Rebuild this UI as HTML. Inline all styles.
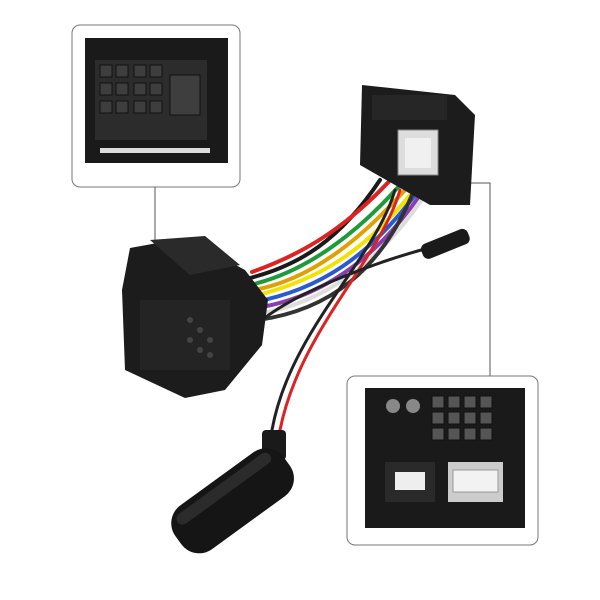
<!DOCTYPE html>
<html><head><meta charset="utf-8"><style>
html,body{margin:0;padding:0;background:#fff;}
svg{display:block;}
</style></head><body>
<svg width="600" height="600" viewBox="0 0 600 600" xmlns="http://www.w3.org/2000/svg">
<rect width="600" height="600" fill="#fff"/>
<polyline points="155,187 155,248" fill="none" stroke="#555" stroke-width="1"/>
<polyline points="462,183 490,183 490,376" fill="none" stroke="#555" stroke-width="1"/>
<rect x="72" y="25" width="168" height="162" rx="8" fill="#fff" stroke="#777" stroke-width="1"/>
<g>
<rect x="85" y="38" width="143" height="125" fill="#1a1a1a"/>
<rect x="95" y="60" width="112" height="80" fill="#2c2c2c"/>
<g fill="#3e3e3e" stroke="#111">
<rect x="100" y="65" width="12" height="12"/><rect x="116" y="65" width="12" height="12"/><rect x="134" y="65" width="12" height="12"/><rect x="150" y="65" width="12" height="12"/>
<rect x="100" y="83" width="12" height="12"/><rect x="116" y="83" width="12" height="12"/><rect x="134" y="83" width="12" height="12"/><rect x="150" y="83" width="12" height="12"/>
<rect x="100" y="101" width="12" height="12"/><rect x="116" y="101" width="12" height="12"/><rect x="134" y="101" width="12" height="12"/><rect x="150" y="101" width="12" height="12"/>
<rect x="170" y="75" width="30" height="40"/>
</g>
<rect x="100" y="148" width="110" height="5" fill="#ddd"/>
</g>
<rect x="347" y="376" width="191" height="169" rx="8" fill="#fff" stroke="#777" stroke-width="1"/>
<g>
<rect x="365" y="388" width="160" height="140" fill="#1a1a1a"/>
<circle cx="393" cy="406" r="7" fill="#888"/><circle cx="413" cy="406" r="7" fill="#888"/>
<g fill="#555" stroke="#111">
<rect x="432" y="396" width="12" height="12"/><rect x="448" y="396" width="12" height="12"/><rect x="464" y="396" width="12" height="12"/><rect x="480" y="396" width="12" height="12"/>
<rect x="432" y="412" width="12" height="12"/><rect x="448" y="412" width="12" height="12"/><rect x="464" y="412" width="12" height="12"/><rect x="480" y="412" width="12" height="12"/>
<rect x="432" y="428" width="12" height="12"/><rect x="448" y="428" width="12" height="12"/><rect x="464" y="428" width="12" height="12"/><rect x="480" y="428" width="12" height="12"/>
</g>
<rect x="385" y="462" width="50" height="40" fill="#2a2a2a"/>
<rect x="395" y="472" width="30" height="18" fill="#eee"/>
<rect x="448" y="462" width="55" height="40" fill="#ccc"/>
<rect x="453" y="470" width="45" height="22" fill="#f2f2f2" stroke="#999"/>
</g>
<g fill="none" stroke-width="4" stroke-linecap="round">
<path d="M250,278 C300,265 340,240 380,180" stroke="#1a1a1a"/>
<path d="M252,272 C300,255 345,230 395,175" stroke="#d22"/>
<path d="M254,284 C310,270 360,230 400,185" stroke="#1f9a3a"/>
<path d="M254,290 C310,280 360,240 405,190" stroke="#e0a000"/>
<path d="M254,296 C320,280 365,250 410,195" stroke="#f2e200"/>
<path d="M254,302 C320,290 370,255 415,195" stroke="#2a5ad0"/>
<path d="M256,308 C320,298 375,260 420,195" stroke="#8a3fb0"/>
<path d="M256,314 C320,305 378,265 425,195" stroke="#ddd"/>
<path d="M258,320 C330,310 380,270 412,195" stroke="#333"/>
<path d="M400,190 C380,260 300,330 280,430" stroke="#d22" stroke-width="3"/>
<path d="M395,190 C375,260 290,330 272,430" stroke="#222" stroke-width="3"/>
<path d="M262,320 C300,290 380,260 440,245" stroke="#222" stroke-width="3"/>
</g>
<g transform="rotate(-22 450 242)">
<rect x="420" y="234" width="50" height="16" rx="6" fill="#1a1a1a"/>
</g>
<g>
<polygon points="362,85 455,95 475,115 470,205 430,205 360,165" fill="#1c1c1c"/>
<rect x="398" y="130" width="40" height="45" fill="#ddd" stroke="#888"/>
<rect x="405" y="138" width="26" height="30" fill="#f0f0f0"/>
<rect x="372" y="95" width="75" height="25" fill="#262626"/>
</g>
<g>
<polygon points="130,248 185,238 245,270 268,300 262,345 225,390 185,398 125,370 122,290" fill="#1c1c1c"/>
<polygon points="150,240 205,236 240,265 190,275" fill="#2a2a2a"/>
<rect x="140" y="300" width="90" height="70" fill="#242424"/>
<g fill="#444"><circle cx="190" cy="320" r="3"/><circle cx="200" cy="330" r="3"/><circle cx="210" cy="340" r="3"/><circle cx="200" cy="350" r="3"/><circle cx="210" cy="355" r="3"/><circle cx="190" cy="340" r="3"/></g>
</g>
<rect x="262" y="430" width="24" height="30" rx="4" fill="#1a1a1a"/>
<g transform="rotate(-36 232 500)">
<rect x="165" y="474" width="134" height="54" rx="22" fill="#151515"/>
<rect x="175" y="480" width="114" height="12" rx="6" fill="#2b2b2b"/>
</g>
</svg>
</body></html>
